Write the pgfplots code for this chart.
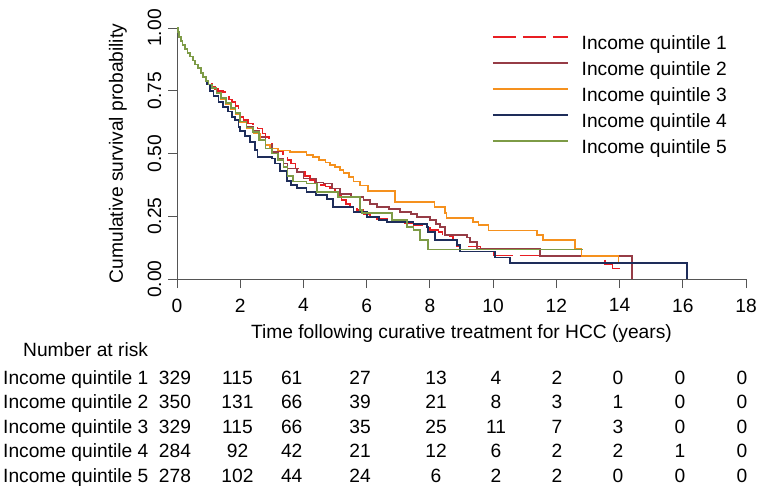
\documentclass[border=0pt]{standalone}
\usepackage{fontspec}
\setmainfont{Liberation Sans}
\usepackage{pgfplots}
\pgfplotsset{compat=1.18}
\definecolor{q1}{RGB}{232,30,35}
\definecolor{q2}{RGB}{150,60,70}
\definecolor{q3}{RGB}{245,145,30}
\definecolor{q4}{RGB}{30,45,90}
\definecolor{q5}{RGB}{125,155,70}
\definecolor{axgray}{RGB}{85,85,85}
\begin{document}
\fontsize{19.2}{23}\selectfont
\begin{tikzpicture}
\path[use as bounding box] (0,0) rectangle (759pt,-500pt);
\begin{axis}[
  at={(177pt,-279pt)}, anchor=south west,
  scale only axis, width=569pt, height=251pt,
  xmin=0, xmax=18, ymin=0, ymax=1,
  axis lines*=left,
  axis line style={axgray, line width=0.9pt},
  tick style={axgray, line width=0.9pt},
  tick align=outside, major tick length=9pt,
  xtick={0,2,...,18},
  ytick={0,0.25,0.5,0.75,1},
  yticklabels={0.00,0.25,0.50,0.75,1.00},
  /pgf/number format/assume math mode=true,
  xticklabel style={font=\fontsize{19.2}{23}\selectfont, yshift=-4pt},
  yticklabel style={font=\fontsize{19.2}{23}\selectfont, rotate=90, anchor=south},
  xlabel={Time following curative treatment for HCC (years)},
  ylabel={Cumulative survival probability},
  every axis x label/.style={at={([yshift=-59pt]axis description cs:0.5,0)}, anchor=base, font=\fontsize{19.2}{23}\selectfont},
  every axis y label/.style={at={([xshift=-59pt]axis description cs:0,0.5)}, anchor=center, rotate=90, font=\fontsize{19.2}{23}\selectfont},
  clip=false,
  legend style={at={(0.5536,0.972)}, anchor=north west, draw=none, fill=none,
    inner sep=0pt, outer sep=0pt, row sep=8pt, column sep=13pt,
    font=\fontsize{19.2}{23}\selectfont,
    nodes={inner sep=0pt, text height=14pt, text depth=4pt}},
  legend cell align=left,
  legend image code/.code={\draw[#1] (0pt,6.9pt) -- (75pt,6.9pt);},
  every axis plot/.append style={line width=1.7pt, const plot},
]
\addplot[q1, dash pattern=on 23pt off 7pt] coordinates {
(0,1) (0.03,0.985) (0.07,0.965) (0.12,0.948) (0.17,0.932) (0.25,0.915) (0.33,0.9) (0.42,0.886) (0.5,0.87) (0.58,0.855) (0.66,0.84) (0.75,0.822) (0.83,0.806) (0.92,0.79)
(1.0,0.778)(1.1,0.767)(1.2,0.757)(1.3,0.75)(1.45,0.745)(1.55,0.73)(1.65,0.715)(1.75,0.705)(1.85,0.69)(1.95,0.665)(2.0,0.645)(2.1,0.633)(2.25,0.62)(2.4,0.61)(2.55,0.6)(2.7,0.58)(2.8,0.565)(2.9,0.545)(3.0,0.52)(3.2,0.51)(3.35,0.49)(3.5,0.475)(3.6,0.46)(3.75,0.44)(3.9,0.425)(4.05,0.41)(4.2,0.395)(4.35,0.385)(4.5,0.375)(4.7,0.368)(4.84,0.36)(5.0,0.345)(5.1,0.33)(5.2,0.315)(5.35,0.3)(5.47,0.288)(5.7,0.275)(5.9,0.26)(6.1,0.248)(6.3,0.24)(6.64,0.228)(7.2,0.222)(7.48,0.215)(7.8,0.205)(8.0,0.195)(8.27,0.188)(8.4,0.17)(8.74,0.155)(8.85,0.129)(9.6,0.122)(9.96,0.116)(10.01,0.094)(13.54,0.06)(13.78,0.042)(13.98,0.02)(13.98,0.02)
};
\addlegendentry{Income quintile 1}
\addplot[q2] coordinates {
(0,1) (0.03,0.985) (0.07,0.965) (0.12,0.948) (0.17,0.932) (0.25,0.915) (0.33,0.9) (0.42,0.886) (0.5,0.87) (0.58,0.855) (0.66,0.84) (0.75,0.822) (0.83,0.806) (0.92,0.79)
(1.0,0.775)(1.1,0.76)(1.25,0.74)(1.4,0.72)(1.55,0.70)(1.7,0.68)(1.85,0.66)(2.0,0.625)(2.2,0.605)(2.4,0.59)(2.6,0.565)(2.8,0.535)(3.0,0.505)(3.2,0.48)(3.37,0.46)(3.5,0.44)(3.8,0.427)(4.0,0.40)(4.4,0.385)(4.63,0.38)(4.9,0.36)(5.16,0.34)(5.5,0.328)(5.9,0.315)(6.1,0.3)(6.32,0.288)(6.7,0.278)(7.06,0.268)(7.4,0.258)(7.6,0.248)(8.0,0.235)(8.2,0.22)(8.32,0.208)(8.48,0.175)(9.17,0.165)(9.27,0.148)(9.48,0.122)(11.49,0.092)(14.39,0)
};
\addlegendentry{Income quintile 2}
\addplot[q3] coordinates {
(0,1) (0.03,0.985) (0.07,0.965) (0.12,0.948) (0.17,0.932) (0.25,0.915) (0.33,0.9) (0.42,0.886) (0.5,0.87) (0.58,0.855) (0.66,0.84) (0.75,0.822) (0.83,0.806) (0.92,0.79)
(1.0,0.775)(1.1,0.762)(1.25,0.74)(1.4,0.715)(1.55,0.695)(1.7,0.675)(1.85,0.655)(2.0,0.625)(2.2,0.6)(2.42,0.58)(2.63,0.554)(2.8,0.535)(2.94,0.52)(3.2,0.512)(3.58,0.507)(4.1,0.494)(4.3,0.485)(4.5,0.474)(4.7,0.464)(4.84,0.454)(5.0,0.445)(5.16,0.434)(5.27,0.422)(5.45,0.405)(5.58,0.388)(5.8,0.372)(6.05,0.352)(6.9,0.308)(8.15,0.286)(8.48,0.264)(8.53,0.242)(9.37,0.228)(9.54,0.215)(9.85,0.193)(11.38,0.175)(11.57,0.155)(12.6,0.122)(12.8,0.092)(13.97,0.062)(15.7,0.062)
};
\addlegendentry{Income quintile 3}
\addplot[q4] coordinates {
(0,1) (0.03,0.985) (0.07,0.965) (0.12,0.948) (0.17,0.932) (0.25,0.915) (0.33,0.9) (0.42,0.886) (0.5,0.87) (0.58,0.855) (0.66,0.84) (0.75,0.822) (0.83,0.806)
(0.9,0.79)(0.95,0.775)(1.05,0.75)(1.15,0.73)(1.31,0.706)(1.45,0.685)(1.62,0.667)(1.75,0.645)(1.84,0.633)(1.95,0.605)(2.0,0.59)(2.15,0.57)(2.3,0.545)(2.47,0.514)(2.55,0.487)(3.0,0.48)(3.1,0.46)(3.25,0.43)(3.47,0.39)(3.6,0.375)(3.79,0.362)(4.1,0.348)(4.4,0.335)(4.74,0.32)(4.94,0.288)(5.58,0.268)(6.0,0.248)(6.4,0.235)(6.64,0.228)(7.48,0.218)(7.9,0.208)(7.95,0.188)(8.16,0.155)(8.85,0.135)(8.96,0.109)(10.05,0.086)(10.54,0.065)(16.13,0)
};
\addlegendentry{Income quintile 4}
\addplot[q5] coordinates {
(0,1) (0.03,0.985) (0.07,0.965) (0.12,0.948) (0.17,0.932) (0.25,0.915) (0.33,0.9) (0.42,0.886) (0.5,0.87) (0.58,0.855) (0.66,0.84) (0.75,0.822) (0.83,0.806) (0.92,0.79)
(1.0,0.775)(1.1,0.76)(1.25,0.74)(1.4,0.72)(1.55,0.70)(1.7,0.68)(1.85,0.66)(2.0,0.628)(2.2,0.603)(2.4,0.585)(2.6,0.555)(2.8,0.52)(3.0,0.5)(3.2,0.475)(3.37,0.447)(3.5,0.41)(3.68,0.388)(4.1,0.38)(4.42,0.348)(5.1,0.328)(5.79,0.275)(5.85,0.262)(6.8,0.235)(7.27,0.208)(7.48,0.195)(7.69,0.155)(7.95,0.118)(12.85,0.118)
};
\addlegendentry{Income quintile 5}
\end{axis}
% Number at risk table
\node[anchor=base west, inner sep=0pt] at (23pt,-356pt) {Number at risk};
\foreach \lab/\yy in {1/384,2/408.5,3/433,4/457.5,5/482}{
  \node[anchor=base west, inner sep=0pt] at (3pt,-\yy pt) {Income quintile \lab};
}
\foreach \yy/\vals in {384/{329,115,61,27,13,4,2,0,0,0},
                       408.5/{350,131,66,39,21,8,3,1,0,0},
                       433/{329,115,66,35,25,11,7,3,0,0},
                       457.5/{284,92,42,21,12,6,2,2,1,0},
                       482/{278,102,44,24,6,2,2,0,0,0}}{
  \foreach \v [count=\i] in \vals {
    \pgfmathsetmacro{\xx}{{175,237.5,291.7,360,436,496,557,618,680,742}[\i-1]}
    \node[anchor=base, inner sep=0pt] at (\xx pt,-\yy pt) {\v};
  }
}
\end{tikzpicture}
\end{document}
